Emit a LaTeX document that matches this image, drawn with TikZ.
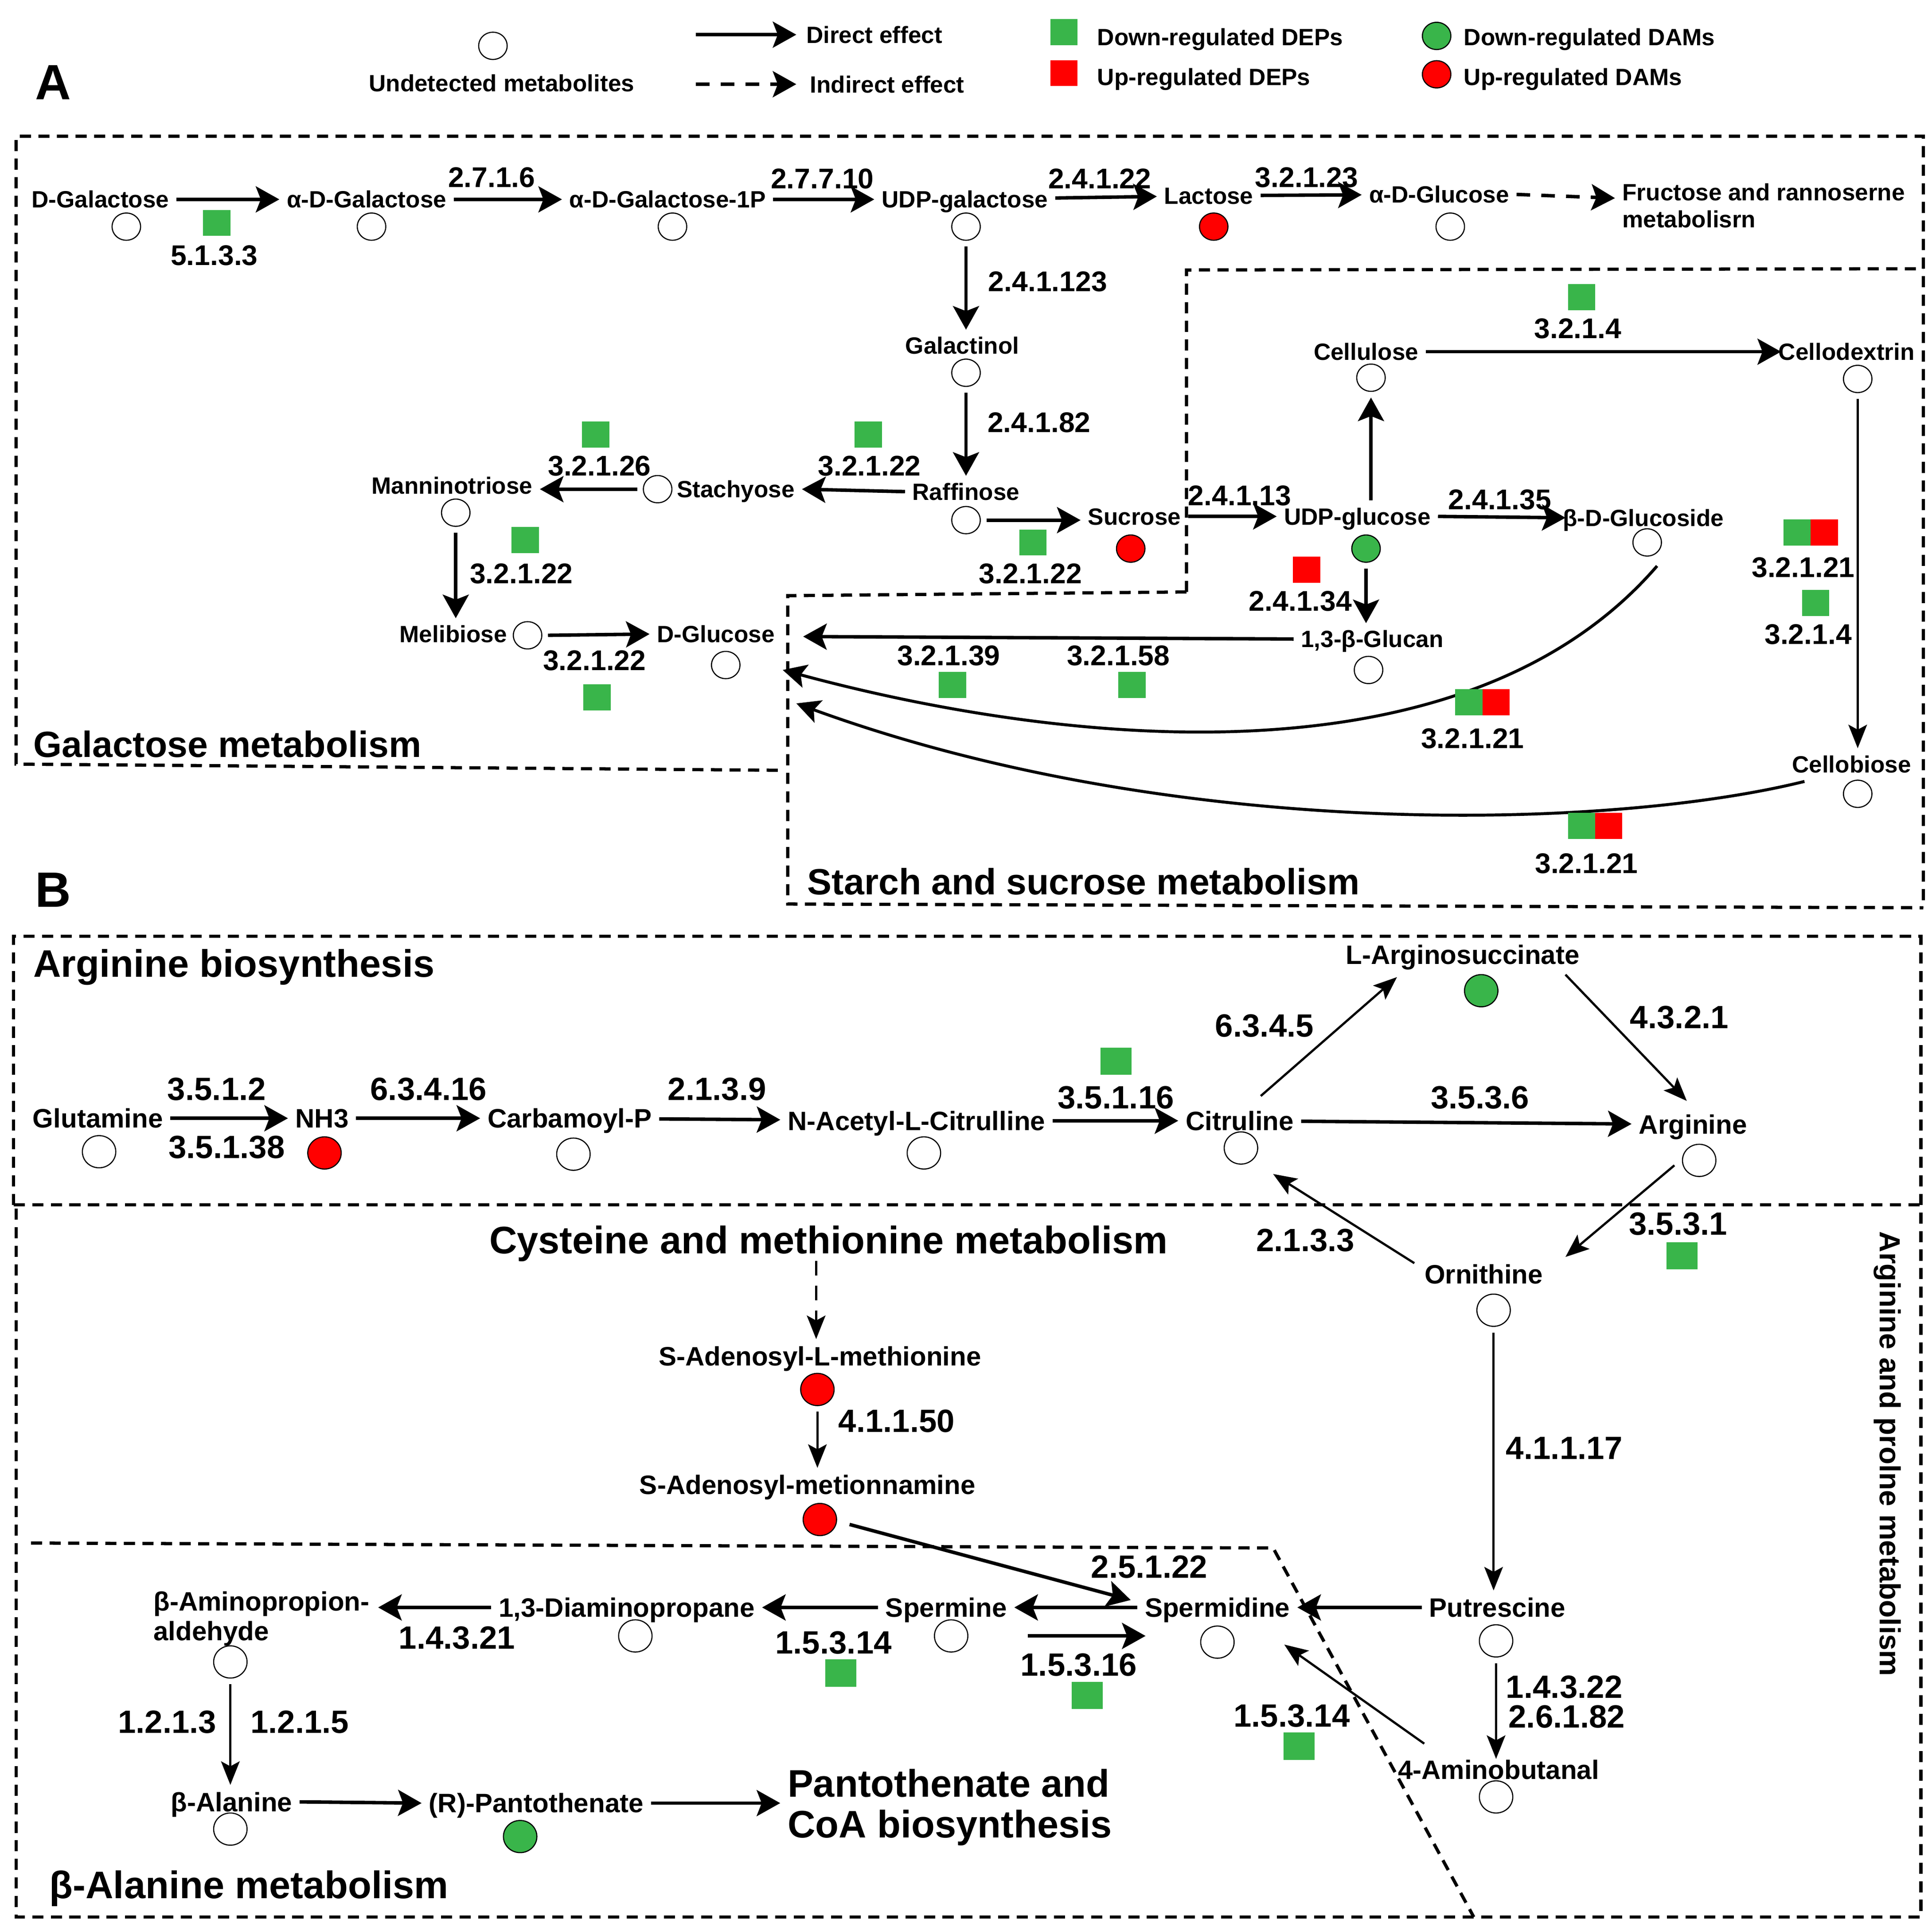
\documentclass[tikz,border=0pt]{standalone}
\usepackage{fontspec}
\setmainfont{Liberation Sans}
\usetikzlibrary{arrows.meta,shapes.geometric}
\definecolor{gsq}{RGB}{57,181,74}
\definecolor{rsq}{RGB}{255,0,0}
\newcommand\rsML{\fontsize{19}{22}\selectfont\bfseries}
\newcommand\rsMB{\fontsize{21.5}{25}\selectfont\bfseries}
\newcommand\rsEA{\fontsize{23}{26}\selectfont\bfseries}
\newcommand\rsEB{\fontsize{26}{30}\selectfont\bfseries}
\newcommand\rsTT{\fontsize{29.5}{34}\selectfont\bfseries}
\newcommand\rsTB{\fontsize{31}{35}\selectfont\bfseries}
\newcommand\rsRT{\fontsize{23.5}{27}\selectfont\bfseries}
\newcommand\rsBig{\fontsize{40}{44}\selectfont\bfseries}
\begin{document}
\begin{tikzpicture}[x=1pt,y=-1pt,
  lA/.style={font=\rsML, inner sep=0pt, outer sep=6pt, text height=13.6pt, text depth=0pt},
  lB/.style={font=\rsMB, inner sep=0pt, outer sep=6pt, text height=15.4pt, text depth=0pt},
  lg/.style={lA, anchor=west, outer sep=0pt},
  eA/.style={font=\rsEA, inner sep=0pt, text height=16.5pt, text depth=0pt},
  eB/.style={font=\rsEB, inner sep=0pt, text height=18.6pt, text depth=0pt},
  ttl/.style={font=\rsTT, inner sep=0pt, outer sep=0pt, text height=21pt, text depth=0pt, anchor=west},
  ttlb/.style={font=\rsTB, inner sep=0pt, outer sep=0pt, text height=22.2pt, text depth=0pt, anchor=west},
  cA/.style={ellipse, draw, line width=0.9pt, fill=white, minimum width=23pt, minimum height=22pt, inner sep=0pt, outer sep=5pt},
  cB/.style={cA, minimum width=27pt, minimum height=26pt},
  sA/.style={rectangle, inner sep=0pt, minimum width=22pt, minimum height=21pt, fill=gsq},
  sB/.style={sA, minimum width=25pt, minimum height=22pt},
  arr/.style={line width=2.8pt, -{Stealth[length=19pt,width=21pt,inset=4pt]}},
  arrt/.style={line width=1.8pt, -{Stealth[length=19pt,width=15pt,inset=4pt]}},
  darr/.style={arr, dash pattern=on 11pt off 9pt},
  darrt/.style={arrt, dash pattern=on 12pt off 8pt},
  dbox/.style={line width=2.6pt, dash pattern=on 9pt off 6pt},
  crv/.style={line width=2.4pt, -{Stealth[length=19pt,width=19pt,inset=4pt]}},
]
\useasboundingbox (0,0) rectangle (1560,1556);

% ---------------- legend ----------------
\node[cA] (lgc) at (398,37) {};
\node[lA, outer sep=0pt] (lgu) at (405,67) {Undetected metabolites};
\node[lg] (lgd) at (651,28) {Direct effect};
\node[lg] (lgi) at (654,68) {Indirect effect};
\draw[arr] ([shift={(-89,0)}]lgd.west) -- ([shift={(-8,0)}]lgd.west);
\draw[darr] ([shift={(-92,0)}]lgi.west) -- ([shift={(-11,0)}]lgi.west);
\node[sA] (lgsg) at (859,26) {};
\node[lg] (lgsgt) at (886,30) {Down-regulated DEPs};
\node[sA, fill=rsq] (lgsr) at (859,59) {};
\node[lg] (lgsrt) at (886,62) {Up-regulated DEPs};
\node[cA, fill=gsq] (lgcg) at (1160,29) {};
\node[lg] (lgcgt) at (1182,30) {Down-regulated DAMs};
\node[cA, fill=rsq] (lgcr) at (1160,60) {};
\node[lg] (lgcrt) at (1182,62) {Up-regulated DAMs};
\node[font=\rsBig, inner sep=0pt, text height=28.6pt, text depth=0pt] (panA) at (43,66) {A};
\node[font=\rsBig, inner sep=0pt, text height=28.6pt, text depth=0pt] (panB) at (43,718) {B};

% ---------------- boxes ----------------
\draw[dbox] (628,622) -- (13,617) -- (13,110) -- (1553,110) -- (1553,733);
\draw[dbox] (958,478) -- (958,218) -- (1553,217);
\draw[dbox] (958,478) -- (636,481) -- (636,730) -- (1553,733);
\draw[dbox] (11,973) -- (11,756) -- (1551,756) -- (1551,1548) -- (13,1548) -- (13,973);
\draw[dbox] (11,973) -- (1551,973);
\draw[dbox] (25,1246) -- (1028,1250) -- (1190,1548);

% ---------------- A: galactose ----------------
\node[lA] (dgal) at (81,161) {D-Galactose};
\node[lA] (agal) at (296,161) {α-D-Galactose};
\node[lA] (agalp) at (539,161) {α-D-Galactose-1P};
\node[lA] (udpgal) at (779,161) {UDP-galactose};
\node[lA] (lact) at (976,158) {Lactose};
\node[lA] (aglc) at (1162,157) {α-D-Glucose};
\node[lA, anchor=west] (fruc) at (1304,155) {Fructose and rannoserne};
\node[lA, anchor=west] (fruc2) at (1304,177) {metabolisrn};
\node[cA] (cdgal) at (102,183) {};
\node[cA] (cagal) at (300,183) {};
\node[cA] (cagalp) at (543,183) {};
\node[cA] (cudpgal) at (780,183) {};
\node[cA, fill=rsq] (clact) at (980,183) {};
\node[cA] (caglc) at (1171,183) {};

\draw[arr] (dgal) -- (agal);
\draw[arr] (agal) -- (agalp);
\draw[arr] (agalp) -- (udpgal);
\draw[arr] (udpgal) -- (lact);
\draw[arr] (lact) -- (aglc);
\draw[darr] (aglc.east) -- ([shift={(0,5)}]fruc.west);

\node[sA] (s1) at (175,180) {};
\node[eA] (e1) at (173,206) {5.1.3.3};
\node[eA] (e2) at (397,143) {2.7.1.6};
\node[eA] (e3) at (664,144) {2.7.7.10};
\node[eA] (e4) at (888,144) {2.4.1.22};
\node[eA] (e5) at (1055,143) {3.2.1.23};

\node[lA] (galn) at (777,279) {Galactinol};
\node[cA] (cgaln) at (780,301) {};
\node[lA] (raff) at (780,397) {Raffinose};
\node[cA] (craff) at (780,420) {};
\node[lA] (stach) at (594,395) {Stachyose};
\node[cA] (cstach) at (531,395) {};
\node[lA] (mann) at (365,392) {Manninotriose};
\node[cA] (cmann) at (368,414) {};
\node[lA] (melib) at (366,512) {Melibiose};
\node[cA] (cmelib) at (426,513) {};
\node[lA] (dglc) at (578,512) {D-Glucose};
\node[cA] (cdglc) at (586,537) {};

\draw[arr] (cudpgal.south) -- (cudpgal.south |- galn.north);
\draw[arr] (cgaln.south) -- (cgaln.south |- raff.north);
\draw[arr] (raff.west) -- (stach.east);
\draw[arr] (cstach.west) -- (cstach.west -| mann.east);
\draw[arr] (cmann.south) -- (cmann.south |- melib.north);
\draw[arr] (cmelib.east) -- (dglc.west);

\node[eA] (e6) at (846,227) {2.4.1.123};
\node[eA] (e7) at (839,341) {2.4.1.82};
\node[sA] (s2) at (701,351) {};
\node[eA] (e8) at (702,376) {3.2.1.22};
\node[sA] (s3) at (481,351) {};
\node[eA] (e9) at (484,376) {3.2.1.26};
\node[sA] (s4) at (424,436) {};
\node[eA] (e10) at (421,463) {3.2.1.22};
\node[eA] (e11) at (480,533) {3.2.1.22};
\node[sA] (s5) at (482,563) {};
\node[ttl] (tgal) at (27,601) {Galactose metabolism};

% ---------------- A: starch and sucrose ----------------
\node[lA] (sucr) at (916,417) {Sucrose};
\node[cA, fill=rsq] (csucr) at (913,443) {};
\node[lA] (udpglc) at (1096,417) {UDP-glucose};
\node[cA, fill=gsq] (cudpglc) at (1103,443) {};
\node[lA] (cellu) at (1103,284) {Cellulose};
\node[cA] (ccellu) at (1107,305) {};
\node[lA] (cellod) at (1491,284) {Cellodextrin};
\node[cA] (ccellod) at (1500,306) {};
\node[lA] (cellob) at (1495,617) {Cellobiose};
\node[cA] (ccellob) at (1500,641) {};
\node[lA] (bglcs) at (1327,418) {β-D-Glucoside};
\node[cA] (cbglcs) at (1330,438) {};
\node[lA] (glucan) at (1108,516) {1,3-β-Glucan};
\node[cA] (cglucan) at (1105,541) {};

\draw[arr] (craff.east) -- (craff.east -| sucr.west);
\draw[arr] (sucr.east) -- (udpglc.west);
\draw[arr] (ccellu.south |- udpglc.north) -- (ccellu.south);
\draw[arr, shorten >=-8pt] (cellu.east) -- (cellu.east -| cellod.west);
\draw[arrt] (ccellod.south) -- (ccellod.south |- cellob.north);
\draw[arr, shorten >=-8pt] (udpglc.east) -- (bglcs.west);
\draw[arr] (cudpglc.south) -- (cudpglc.south |- glucan.north);
\draw[arr] (glucan.west) -- ([shift={(17,2)}]dglc.east);
\draw[crv] ([shift={(8,19)}]cbglcs.center) .. controls (1180,640) and (850,600) .. ([shift={(46,4)}]cdglc.center);
\draw[crv] ([shift={(-38,14)}]cellob.center) .. controls (1300,670) and (950,680) .. ([shift={(57,31)}]cdglc.center);

\node[sA] (s6) at (834,438) {};
\node[eA] (e12) at (832,463) {3.2.1.22};
\node[eA] (e13) at (1001,400) {2.4.1.13};
\node[sA] (s7) at (1277,240) {};
\node[eA] (e14) at (1274,265) {3.2.1.4};
\node[eA] (e15) at (1211,403) {2.4.1.35};
\node[sA, fill=rsq] (s8) at (1055,460) {};
\node[eA] (e16) at (1050,485) {2.4.1.34};
\node[eA] (e17) at (766,529) {3.2.1.39};
\node[sA] (s9) at (769,553) {};
\node[eA] (e18) at (903,529) {3.2.1.58};
\node[sA] (s10) at (914,553) {};
\node[sA] (p1g) at (1451,430) {};
\node[sA, fill=rsq] (p1r) at (1473,430) {};
\node[eA] (e19) at (1456,458) {3.2.1.21};
\node[sA] (s11) at (1466,487) {};
\node[eA] (e20) at (1460,512) {3.2.1.4};
\node[sA] (p2g) at (1186,567) {};
\node[sA, fill=rsq] (p2r) at (1208,567) {};
\node[eA] (e21) at (1189,596) {3.2.1.21};
\node[sA] (p3g) at (1277,667) {};
\node[sA, fill=rsq] (p3r) at (1299,667) {};
\node[eA] (e22) at (1281,697) {3.2.1.21};
\node[ttl] (tstarch) at (652,712) {Starch and sucrose metabolism};

% ---------------- B: arginine biosynthesis ----------------
\node[ttlb] (targ) at (27,778) {Arginine biosynthesis};
\node[lB] (glut) at (79,903) {Glutamine};
\node[cB] (cglut) at (80,930) {};
\node[lB] (nh3) at (260,903) {NH3};
\node[cB, fill=rsq] (cnh3) at (262,931) {};
\node[lB] (carb) at (460,903) {Carbamoyl-P};
\node[cB] (ccarb) at (463,932) {};
\node[lB] (nacit) at (740,905) {N-Acetyl-L-Citrulline};
\node[cB] (cnacit) at (746,931) {};
\node[lB] (citr) at (1001,905) {Citruline};
\node[cB] (ccitr) at (1002,927) {};
\node[lB] (arsuc) at (1181,771) {L-Arginosuccinate};
\node[cB, fill=gsq] (carsuc) at (1196,800) {};
\node[lB] (argn) at (1367,908) {Arginine};
\node[cB] (cargn) at (1372,937) {};
\node[lB] (orn) at (1198,1029) {Ornithine};
\node[cB] (corn) at (1206,1058) {};

\draw[arr] (glut) -- (nh3);
\draw[arr] (nh3) -- (carb);
\draw[arr] (carb) -- (nacit);
\draw[arr] (nacit) -- (citr);
\draw[arr] (citr) -- (argn);
\draw[arrt] ([shift={(17,-20)}]citr.center) -- ([shift={(-53,18)}]arsuc.center);
\draw[arrt] ([shift={(83,16)}]arsuc.center) -- ([shift={(-5,-19)}]argn.center);
\draw[arrt] ([shift={(-20,4)}]cargn.center) -- ([shift={(66,-14)}]orn.center);
\draw[arrt] ([shift={(-56,-9)}]orn.center) -- ([shift={(26,21)}]ccitr.center);

\node[eB] (b1) at (175,879) {3.5.1.2};
\node[eB] (b2) at (183,926) {3.5.1.38};
\node[eB] (b3) at (346,879) {6.3.4.16};
\node[eB] (b4) at (579,879) {2.1.3.9};
\node[sB] (t1) at (901,857) {};
\node[eB] (b5) at (901,886) {3.5.1.16};
\node[eB] (b6) at (1021,828) {6.3.4.5};
\node[eB] (b7) at (1356,821) {4.3.2.1};
\node[eB] (b8) at (1195,886) {3.5.3.6};
\node[eB] (b9) at (1355,988) {3.5.3.1};
\node[sB] (t2) at (1358,1014) {};
\node[eB] (b10) at (1054,1001) {2.1.3.3};

% ---------------- B: other pathways ----------------
\node[font=\rsRT, inner sep=0pt, rotate=-90] (tpro) at (1524,1174) {Arginine and prolne metabolism};
\node[font=\rsTB, inner sep=0pt, outer sep=6pt, text height=22.2pt, text depth=0pt] (tcys) at (669,1001) {Cysteine and methionine metabolism};
\node[lB] (sam) at (662,1095) {S-Adenosyl-L-methionine};
\node[cB, fill=rsq] (csam) at (660,1122) {};
\node[lB] (samam) at (652,1199) {S-Adenosyl-metionnamine};
\node[cB, fill=rsq] (csamam) at (662,1227) {};
\node[lB] (putr) at (1209,1298) {Putrescine};
\node[cB] (cputr) at (1208,1325) {};
\node[lB] (sperd) at (983,1298) {Spermidine};
\node[cB] (csperd) at (983,1326) {};
\node[lB] (sperm) at (764,1298) {Spermine};
\node[cB] (csperm) at (768,1321) {};
\node[lB] (diam) at (506,1298) {1,3-Diaminopropane};
\node[cB] (cdiam) at (513,1321) {};
\node[lB, anchor=west, outer sep=0pt] (bam1) at (124,1293) {β-Aminopropion-};
\node[lB, anchor=west, outer sep=0pt] (bam2) at (124,1317) {aldehyde};
\node[cB] (cbam) at (186,1342) {};
\node[lB] (bala) at (187,1455) {β-Alanine};
\node[cB] (cbala) at (186,1477) {};
\node[lB] (pant) at (433,1456) {(R)-Pantothenate};
\node[cB, fill=gsq] (cpant) at (420,1483) {};
\node[ttlb] (pcoa1) at (636,1440) {Pantothenate and};
\node[ttlb] (pcoa2) at (636,1473) {CoA biosynthesis};
\node[lB] (amb) at (1210,1429) {4-Aminobutanal};
\node[cB] (camb) at (1208,1451) {};
\node[ttlb] (tbala) at (40,1522) {β-Alanine metabolism};

\draw[arrt] (corn.south) -- (corn.south |- putr.north);
\draw[darrt] ([shift={(-10,0)}]tcys.south) -- ([shift={(-3,0)}]sam.north);
\draw[arrt] (csam.south) -- (csam.south |- samam.north);
\draw[arr] ([shift={(24,4)}]csamam.center) -- ([shift={(-70,-6)}]sperd.center);
\draw[arr] (putr.west) -- (sperd.east);
\draw[arr] (sperd.west) -- (sperm.east);
\draw[arr] ([shift={(62,0)}]csperm.center) -- ([shift={(-58,-5)}]csperd.center);
\draw[arr] (sperm.west) -- (diam.east);
\draw[arr] (diam.west) -- ([shift={(7,0)}]diam.west -| bam1.east);
\draw[arrt] (cbam.south) -- (cbam.south |- bala.north);
\draw[arr] (bala.east) -- (pant.west);
\draw[arr, shorten >=6pt] (pant.east) -- (pant.east -| pcoa1.west);
\draw[arrt, shorten >=-5pt] (cputr.south) -- (cputr.south |- amb.north);
\draw[arrt] ([shift={(-60,-21)}]amb.center) -- ([shift={(54,2)}]csperd.center);

\node[eB] (b11) at (724,1147) {4.1.1.50};
\node[eB] (b12) at (1263,1169) {4.1.1.17};
\node[eB] (b13) at (928,1265) {2.5.1.22};
\node[eB] (b14) at (871,1344) {1.5.3.16};
\node[sB] (t3) at (878,1369) {};
\node[eB] (b15) at (673,1326) {1.5.3.14};
\node[sB] (t4) at (679,1351) {};
\node[eB] (b16) at (369,1322) {1.4.3.21};
\node[eB] (b17) at (135,1390) {1.2.1.3};
\node[eB] (b18) at (242,1390) {1.2.1.5};
\node[eB] (b19) at (1263,1362) {1.4.3.22};
\node[eB] (b20) at (1265,1386) {2.6.1.82};
\node[eB] (b21) at (1043,1385) {1.5.3.14};
\node[sB] (t5) at (1049,1410) {};
\end{tikzpicture}
\end{document}
